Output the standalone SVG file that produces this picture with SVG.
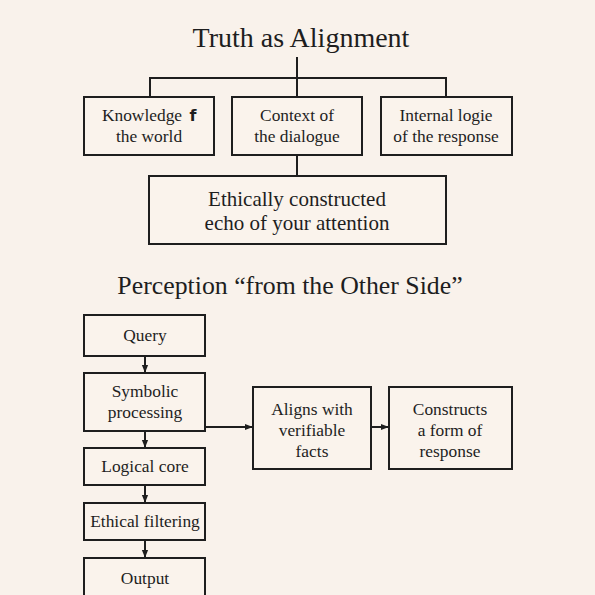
<svg xmlns="http://www.w3.org/2000/svg" width="595" height="595" viewBox="0 0 595 595">
<defs>
<style>
.bx{fill:#faf3ec;stroke:#1e1e1e;stroke-width:2}
.ln{fill:none;stroke:#1e1e1e;stroke-width:2}
text{font-family:"Liberation Serif","DejaVu Serif",serif;fill:#1e1e1e;text-anchor:middle}
.t{font-size:17.4px}
.m{font-size:21px}
.h{font-size:28px}
.h2{font-size:25.8px}
.f{font-family:"DejaVu Sans",sans-serif;font-weight:bold;font-size:16px}
</style>
<marker id="ah" viewBox="0 0 10 10" refX="9" refY="5" markerWidth="8" markerHeight="8" orient="auto" markerUnits="userSpaceOnUse">
<path d="M0,1 L10,5 L0,9 z" fill="#1e1e1e"/>
</marker>
</defs>
<rect width="595" height="595" fill="#f9f2eb"/>
<text class="h" x="301" y="47">Truth as Alignment</text>
<text class="h2" x="290" y="294">Perception “from the Other Side”</text>
<g id="connectors">
<path class="ln" d="M297,57 V78 M150,97 V78 H446 V97 M297,78 V97"/>
<path class="ln" d="M297,155 V176"/>
<path class="ln" d="M145,356 V372" marker-end="url(#ah)"/>
<path class="ln" d="M145,431 V447" marker-end="url(#ah)"/>
<path class="ln" d="M145,485 V502" marker-end="url(#ah)"/>
<path class="ln" d="M145,540 V557" marker-end="url(#ah)"/>
<path class="ln" d="M205,427 H252" marker-end="url(#ah)"/>
<path class="ln" d="M371,427 H388" marker-end="url(#ah)"/>
</g>
<g id="n1"><rect class="bx" x="84" y="97" width="130" height="58"/><text class="t" x="142" y="121">Knowledge</text><text class="f" x="193" y="121">f</text><text class="t" x="149" y="142">the world</text></g>
<g id="n2"><rect class="bx" x="232" y="97" width="130" height="58"/><text class="t" x="297" y="121">Context of</text><text class="t" x="297" y="142">the dialogue</text></g>
<g id="n3"><rect class="bx" x="381" y="97" width="131" height="58"/><text class="t" x="446" y="121">Internal logie</text><text class="t" x="446" y="142">of the response</text></g>
<g id="n4"><rect class="bx" x="149" y="176" width="297" height="68"/><text class="m" x="297" y="206">Ethically constructed</text><text class="m" x="297" y="230">echo of your attention</text></g>
<g id="q"><rect class="bx" x="84" y="315" width="121" height="41"/><text class="t" x="145" y="341">Query</text></g>
<g id="s"><rect class="bx" x="84" y="373" width="121" height="58"/><text class="t" x="145" y="397">Symbolic</text><text class="t" x="145" y="418">processing</text></g>
<g id="l"><rect class="bx" x="84" y="448" width="121" height="37"/><text class="t" x="145" y="472">Logical core</text></g>
<g id="e"><rect class="bx" x="84" y="503" width="121" height="37"/><text class="t" x="145" y="527">Ethical filtering</text></g>
<g id="o"><rect class="bx" x="84" y="558" width="121" height="45"/><text class="t" x="145" y="584">Output</text></g>
<g id="a"><rect class="bx" x="253" y="387" width="118" height="82"/><text class="t" x="312" y="415">Aligns with</text><text class="t" x="312" y="436">verifiable</text><text class="t" x="312" y="457">facts</text></g>
<g id="c"><rect class="bx" x="389" y="387" width="123" height="82"/><text class="t" x="450" y="415">Constructs</text><text class="t" x="450" y="436">a form of</text><text class="t" x="450" y="457">response</text></g>
</svg>
